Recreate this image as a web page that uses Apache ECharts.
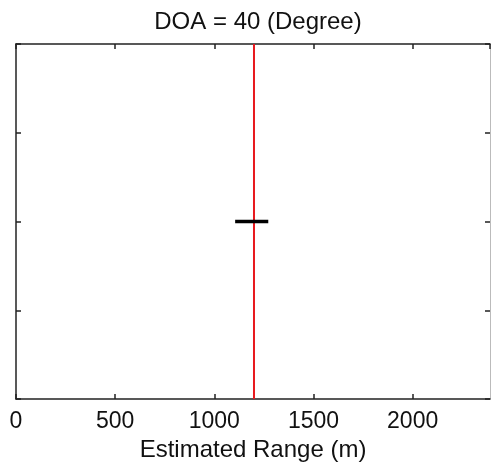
<!DOCTYPE html>
<html>
<head>
<meta charset="utf-8">
<script src="https://cdn.jsdelivr.net/npm/echarts@6/dist/echarts.min.js"></script>
<style>html,body{margin:0;padding:0;background:#fff;}#c{width:492px;height:464px;}</style>
</head>
<body>
<div id="c"></div>
<script>
const titleText = 'DOA = 40 (Degree)';
const xAxisName = 'Estimated Range (m)';
const xTicks = [0, 500, 1000, 1500, 2000];
const xMin = 0, xMax = 2390;
const yMin = 0, yMax = 4;
const trueRange = [1200];
const estimatedRangeX = [1105, 1272];
const estimatedRangeY = [2, 2];

const font = 'Liberation Sans, Arial, Helvetica, sans-serif';
const chart = echarts.init(document.getElementById('c'));
const axisLine = {show: true, onZero: false, lineStyle: {color: '#222', width: 1.5}};
const tick = {show: true, inside: true, length: 5, lineStyle: {color: '#222', width: 1.5}};

chart.setOption({
  animation: false,
  title: {text: titleText, left: 253, top: 5, textAlign: 'center',
    textStyle: {fontFamily: font, fontSize: 24, fontWeight: 'normal', color: '#111'}},
  grid: {left: 16, right: 2, top: 44, bottom: 65, containLabel: false, outerBoundsMode: 'none'},
  xAxis: [
    {type: 'value', min: xMin, max: xMax, interval: 500, position: 'bottom',
      axisLine: axisLine, axisTick: tick, splitLine: {show: false},
      axisLabel: {fontFamily: font, fontSize: 23, color: '#111', margin: 11,
        showMaxLabel: false,
        formatter: v => xTicks.includes(v) ? String(v) : ''},
      name: xAxisName, nameLocation: 'middle', nameGap: 33,
      nameTextStyle: {fontFamily: font, fontSize: 24, color: '#111'}},
    {type: 'value', min: xMin, max: xMax, interval: 500, position: 'top',
      axisLine: axisLine, axisTick: tick, splitLine: {show: false}, axisLabel: {show: false}}
  ],
  yAxis: [
    {type: 'value', min: yMin, max: yMax, interval: 1, position: 'left',
      axisLine: axisLine, axisTick: tick, splitLine: {show: false}, axisLabel: {show: false}},
    {type: 'value', min: yMin, max: yMax, interval: 1, position: 'right',
      axisLine: {show: true, onZero: false, lineStyle: {color: '#bbb', width: 1}}, axisTick: tick,
      splitLine: {show: false}, axisLabel: {show: false}}
  ],
  series: [
    {type: 'line', xAxisIndex: 0, yAxisIndex: 0, symbol: 'none',
      data: [[trueRange[0], yMin], [trueRange[0], yMax]],
      lineStyle: {color: '#e8191e', width: 2}},
    {type: 'line', xAxisIndex: 0, yAxisIndex: 0, symbol: 'none',
      data: estimatedRangeX.map((x, i) => [x, estimatedRangeY[i]]),
      lineStyle: {color: '#000', width: 3.5}}
  ]
});
</script>
</body>
</html>
